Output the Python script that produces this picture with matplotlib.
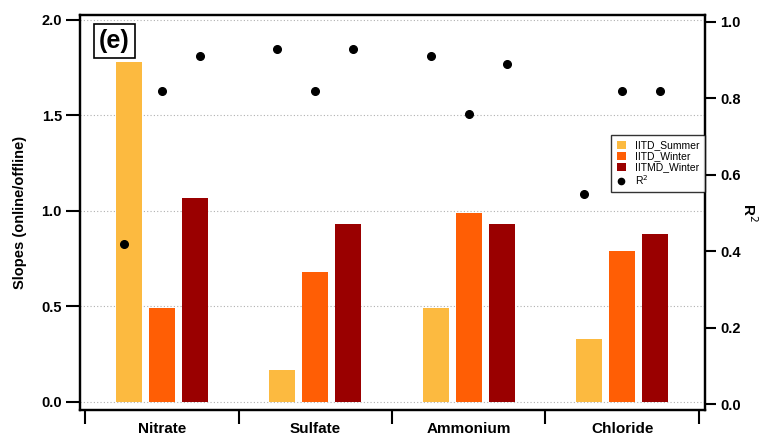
import matplotlib
matplotlib.use("Agg")
import matplotlib.pyplot as plt
import numpy as np
from matplotlib.patches import Patch
from matplotlib.lines import Line2D

plt.rcParams['font.family'] = ['Liberation Sans', 'DejaVu Sans']

categories = ["Nitrate", "Sulfate", "Ammonium", "Chloride"]
series_names = ["IITD_Summer", "IITD_Winter", "IITMD_Winter"]
slopes_iitd_summer = [1.78, 0.17, 0.49, 0.33]
slopes_iitd_winter = [0.49, 0.68, 0.99, 0.79]
slopes_iitmd_winter = [1.07, 0.93, 0.93, 0.88]
r2_iitd_summer = [0.42, 0.93, 0.91, 0.55]
r2_iitd_winter = [0.82, 0.82, 0.76, 0.82]
r2_iitmd_winter = [0.91, 0.93, 0.89, 0.82]
left_ticks = [0.0, 0.5, 1.0, 1.5, 2.0]
right_ticks = [0.0, 0.2, 0.4, 0.6, 0.8, 1.0]

colors = ["#FCBA40", "#FF5E05", "#9A0000"]

fig = plt.figure(figsize=(7.65, 4.36), dpi=100)
ax = fig.add_axes([0.1046, 0.0596, 0.817, 0.906])
ax2 = ax.twinx()

x = np.arange(len(categories))
bar_w = 0.17
bar_off = 0.215
dot_off = 0.248
slopes = [slopes_iitd_summer, slopes_iitd_winter, slopes_iitmd_winter]
r2s = [r2_iitd_summer, r2_iitd_winter, r2_iitmd_winter]
for i, (vals, c) in enumerate(zip(slopes, colors)):
    ax.bar(x + (i - 1) * bar_off, vals, width=bar_w, color=c, zorder=3)
for i, vals in enumerate(r2s):
    ax2.plot(x + (i - 1) * dot_off, vals, 'o', color='black', markersize=5.5, zorder=4)

ax.set_xlim(-0.533, 3.54)
ax.set_ylim(-0.042, 2.026)
ax2.set_ylim(-0.0157, 1.018)

ax.set_yticks(left_ticks)
ax.set_yticklabels([f"{v:.1f}" for v in left_ticks], fontweight='bold', fontsize=10.5)
ax2.set_yticks(right_ticks)
ax2.set_yticklabels([f"{v:.1f}" for v in right_ticks], fontweight='bold', fontsize=10.5)

ax.set_xticks(x)
ax.set_xticklabels(categories, fontweight='bold', fontsize=11)
ax.set_xticks(np.arange(-0.5, len(categories), 1.0), minor=True)
ax.tick_params(axis='x', which='major', length=0, pad=8.5)
ax.tick_params(axis='x', which='minor', length=10, width=1.5, direction='out')
ax.tick_params(axis='y', length=10, width=1.5, direction='out', pad=3)
ax2.tick_params(axis='y', length=8, width=1.5, direction='out', pad=3)

for a in (ax, ax2):
    for s in a.spines.values():
        s.set_linewidth(1.6)

ax.yaxis.grid(True, linestyle=(0, (1, 2)), color='#B0B0B0', linewidth=0.8, zorder=0)
ax.set_axisbelow(True)

ax.set_ylabel("Slopes (online/offline)", fontweight='bold', fontsize=10.5, labelpad=10)
ax2.set_ylabel("R$^2$", fontweight='bold', fontsize=11, rotation=270, labelpad=13)

ax.text(0.03, 0.935, "(e)", transform=ax.transAxes, fontsize=18, fontweight='bold',
        ha='left', va='center', zorder=6,
        bbox=dict(boxstyle='square,pad=0.2', facecolor='white', edgecolor='black', linewidth=1.2))

handles = [Patch(facecolor=c, edgecolor='none') for c in colors]
handles.append(Line2D([0], [0], marker='o', color='black', linestyle='none', markersize=4.5))
labels = series_names + ["R$^2$"]
leg = ax2.legend(handles, labels, loc='upper right', bbox_to_anchor=(1.0, 0.696),
                 fontsize=7.5, frameon=True, fancybox=False, borderaxespad=0,
                 handlelength=0.9, handleheight=0.85, handletextpad=0.9, labelspacing=0.1,
                 borderpad=0.5)
leg.get_frame().set_edgecolor('black')
leg.get_frame().set_linewidth(1.0)

fig.savefig("out.png", dpi=100)
